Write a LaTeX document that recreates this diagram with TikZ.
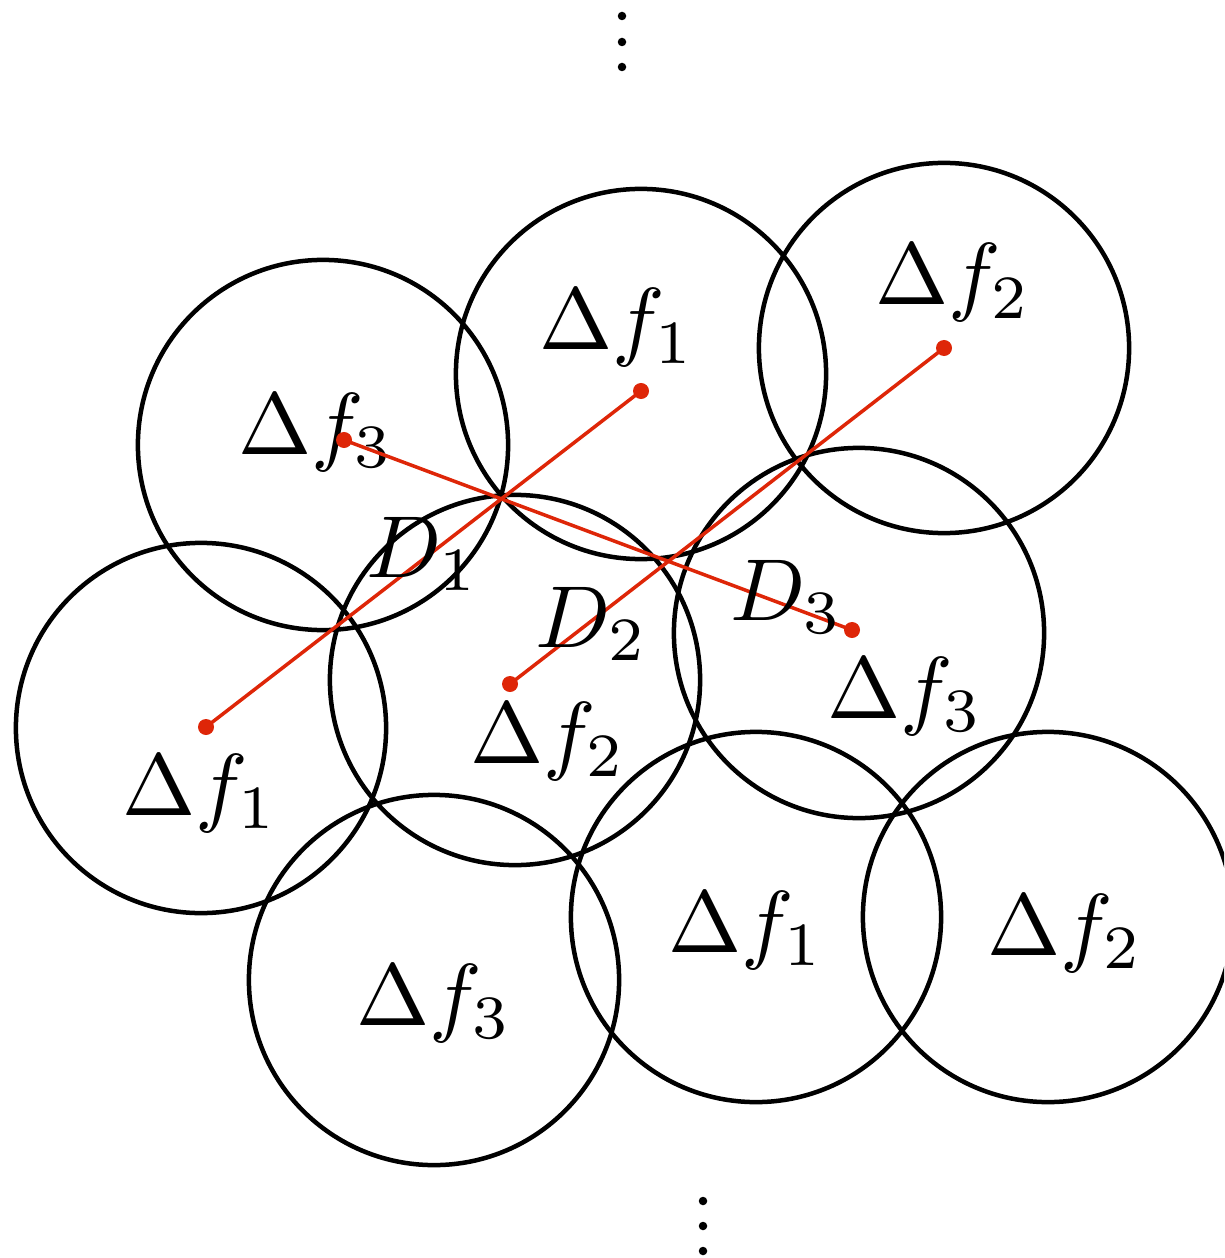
\documentclass[tikz,border=0pt]{standalone}
\usepackage{graphicx}
\usepackage{xcolor}
\definecolor{dred}{RGB}{222,38,8}
\newcommand{\biglab}[1]{\scalebox{2.5}{$#1$}}
\begin{document}
\begin{tikzpicture}[x=0.01cm,y=-0.01cm,
  cell/.style={draw=black,circle,line width=0.045cm,minimum size=3.70cm,inner sep=0pt},
  lab/.style={anchor=base,inner sep=0pt},
  pt/.style={circle,fill=dred,inner sep=0pt,minimum size=0.16cm},
  link/.style={draw=dred,line width=0.035cm},
  vdot/.style={circle,fill=black,inner sep=0pt,minimum size=0.085cm}]
\useasboundingbox (0,0) rectangle (1224,1258);
\begin{scope}
\clip (0,0) rectangle (1224,1258);
\node[cell] (c1) at (323,445) {};
\node[cell] (c2) at (641,374) {};
\node[cell] (c3) at (944,348) {};
\node[cell] (c4) at (201,728) {};
\node[cell] (c5) at (515,680) {};
\node[cell] (c6) at (859,633) {};
\node[cell] (c7) at (434,980) {};
\node[cell] (c8) at (756,917) {};
\node[cell] (c9) at (1048,917) {};
\end{scope}
\node[lab] (l1) at (316,454) {\biglab{\Delta f_3}};
\node[lab] (l2) at (617,350) {\biglab{\Delta f_1}};
\node[lab] (l3) at (953,305) {\biglab{\Delta f_2}};
\node[lab] (l4) at (200,815) {\biglab{\Delta f_1}};
\node[lab] (l5) at (548,763) {\biglab{\Delta f_2}};
\node[lab] (l6) at (905,718) {\biglab{\Delta f_3}};
\node[lab] (l7) at (434,1025) {\biglab{\Delta f_3}};
\node[lab] (l8) at (746,952) {\biglab{\Delta f_1}};
\node[lab] (l9) at (1065,955) {\biglab{\Delta f_2}};
\node[pt] (p1) at (344,440) {};
\node[pt] (p2) at (641,391) {};
\node[pt] (p3) at (944,348) {};
\node[pt] (p4) at (206,727) {};
\node[pt] (p5) at (510,684) {};
\node[pt] (p6) at (852,630) {};
\draw[link] (p4.center) -- (p2.center);
\draw[link] (p5.center) -- (p3.center);
\draw[link] (p1.center) -- (p6.center);
\node[lab] (d1) at (423,577) {\biglab{D_1}};
\node[lab] (d2) at (592,647) {\biglab{D_2}};
\node[lab] (d3) at (787,620) {\biglab{D_3}};
\node[vdot] (t1) at (622,16) {};
\node[vdot] (t2) at (622,42) {};
\node[vdot] (t3) at (622,67) {};
\node[vdot] (b1) at (703,1201) {};
\node[vdot] (b2) at (703,1226) {};
\node[vdot] (b3) at (703,1251) {};
\end{tikzpicture}
\end{document}
